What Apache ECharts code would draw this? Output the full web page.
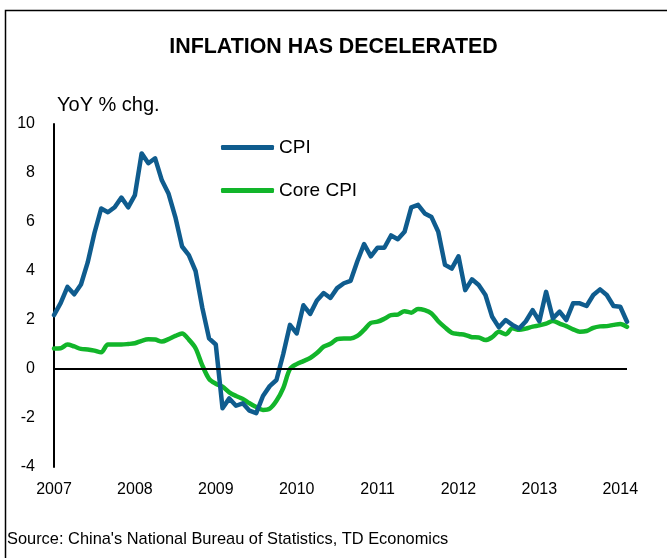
<!DOCTYPE html>
<html>
<head>
<meta charset="utf-8">
<script src="https://cdn.jsdelivr.net/npm/echarts@6/dist/echarts.min.js"></script>
<style>
html,body{margin:0;padding:0;background:#fff;}
#chart{width:667px;height:558px;}
</style>
</head>
<body>
<div id="chart"></div>
<script>
// Monthly, Jan 2007 .. Feb 2014
var years = ['2007','2008','2009','2010','2011','2012','2013','2014'];
var cpi2007 = [2.2, 2.7, 3.35, 3.05, 3.45, 4.35, 5.55, 6.55, 6.4, 6.6, 7.0, 6.6];
var cpi2008 = [7.1, 8.8, 8.4, 8.6, 7.7, 7.15, 6.2, 5.0, 4.65, 4.0, 2.5, 1.25];
var cpi2009 = [1.0, -1.6, -1.2, -1.5, -1.4, -1.7, -1.8, -1.1, -0.7, -0.45, 0.6, 1.8];
var cpi2010 = [1.45, 2.6, 2.25, 2.8, 3.1, 2.9, 3.3, 3.5, 3.6, 4.4, 5.1, 4.6];
var cpi2011 = [4.95, 4.95, 5.45, 5.3, 5.6, 6.6, 6.7, 6.35, 6.2, 5.6, 4.25, 4.1];
var cpi2012 = [4.6, 3.22, 3.66, 3.43, 3.02, 2.13, 1.7, 2.0, 1.8, 1.65, 1.95, 2.4];
var cpi2013 = [1.95, 3.15, 2.07, 2.34, 2.0, 2.68, 2.68, 2.57, 3.02, 3.25, 3.02, 2.57];
var cpi2014 = [2.54, 1.93];

var core2007 = [0.84, 0.85, 1.0, 0.92, 0.82, 0.8, 0.75, 0.68, 1.0, 1.0, 1.0, 1.02];
var core2008 = [1.05, 1.15, 1.21, 1.2, 1.12, 1.22, 1.35, 1.45, 1.2, 0.85, 0.15, -0.4];
var core2009 = [-0.6, -0.72, -0.95, -1.1, -1.22, -1.4, -1.55, -1.67, -1.62, -1.3, -0.78, 0.0];
var core2010 = [0.2, 0.32, 0.45, 0.65, 0.91, 1.03, 1.22, 1.25, 1.25, 1.35, 1.6, 1.88];
var core2011 = [1.93, 2.05, 2.2, 2.22, 2.36, 2.3, 2.45, 2.4, 2.27, 1.95, 1.7, 1.48];
var core2012 = [1.43, 1.39, 1.3, 1.29, 1.18, 1.3, 1.52, 1.42, 1.66, 1.6, 1.65, 1.73];
var core2013 = [1.78, 1.85, 1.96, 1.85, 1.75, 1.62, 1.52, 1.55, 1.68, 1.74, 1.75, 1.8];
var core2014 = [1.84, 1.72];

var cpi = [].concat(cpi2007, cpi2008, cpi2009, cpi2010, cpi2011, cpi2012, cpi2013, cpi2014);
var core = [].concat(core2007, core2008, core2009, core2010, core2011, core2012, core2013, core2014);

var months = [];
for (var i = 0; i < cpi.length; i++) {
  months.push(i % 12 === 0 ? years[i / 12] : '');
}

var FONT = '"Liberation Sans", Arial, sans-serif';
var chart = echarts.init(document.getElementById('chart'), null, {renderer: 'canvas'});
chart.setOption({
  animation: false,
  backgroundColor: '#fff',
  title: {
    text: 'INFLATION HAS DECELERATED',
    left: 'center',
    top: 32,
    textStyle: {fontFamily: FONT, fontSize: 21.4, fontWeight: 'bold', color: '#000'}
  },
  legend: {
    orient: 'vertical',
    left: 216,
    top: 132,
    icon: 'roundRect',
    itemWidth: 53,
    itemHeight: 5,
    itemGap: 22,
    itemTextGap: 6,
    textStyle: {fontFamily: FONT, fontSize: 19, color: '#000', lineHeight: 21},
    data: ['CPI', 'Core CPI']
  },
  graphic: [
    {type: 'polyline', silent: true, shape: {points: [[5.5, 560], [5.5, 10.5], [670, 10.5]]},
     style: {stroke: '#000', lineWidth: 1.5, fill: null}},
    {type: 'text', left: 57, top: 95, silent: true,
     style: {text: 'YoY % chg.', font: '20px ' + FONT, fill: '#000'}},
    {type: 'text', left: 7, top: 531, silent: true,
     style: {text: "Source: China's National Bureau of Statistics, TD Economics", font: '16.4px ' + FONT, fill: '#000'}}
  ],
  grid: {left: 54, right: 40, top: 124, bottom: 91, containLabel: false},
  xAxis: {
    type: 'category',
    data: months,
    boundaryGap: false,
    axisLine: {show: false},
    axisTick: {show: false},
    splitLine: {show: false},
    axisLabel: {
      interval: function (idx) { return idx % 12 === 0; },
      margin: 15,
      fontFamily: FONT, fontSize: 16, color: '#000'
    }
  },
  yAxis: {
    type: 'value',
    min: -4, max: 10, interval: 2,
    axisLine: {show: true, lineStyle: {color: '#000', width: 2}},
    axisTick: {show: false},
    splitLine: {show: false},
    axisLabel: {margin: 19, fontFamily: FONT, fontSize: 16, color: '#000'}
  },
  series: [
    {
      name: 'CPI', type: 'line', data: cpi, symbol: 'none', z: 3,
      lineStyle: {color: '#0F5C8E', width: 4.5, cap: 'round', join: 'round'},
      itemStyle: {color: '#0F5C8E'},
      markLine: {
        silent: true, symbol: 'none', label: {show: false},
        lineStyle: {color: '#000', width: 2, type: 'solid'},
        data: [{yAxis: 0}]
      }
    },
    {
      name: 'Core CPI', type: 'line', data: core, symbol: 'none', smooth: 0.3, z: 2,
      lineStyle: {color: '#12B52A', width: 4.5, cap: 'round', join: 'round'},
      itemStyle: {color: '#12B52A'}
    }
  ]
});
</script>
</body>
</html>
